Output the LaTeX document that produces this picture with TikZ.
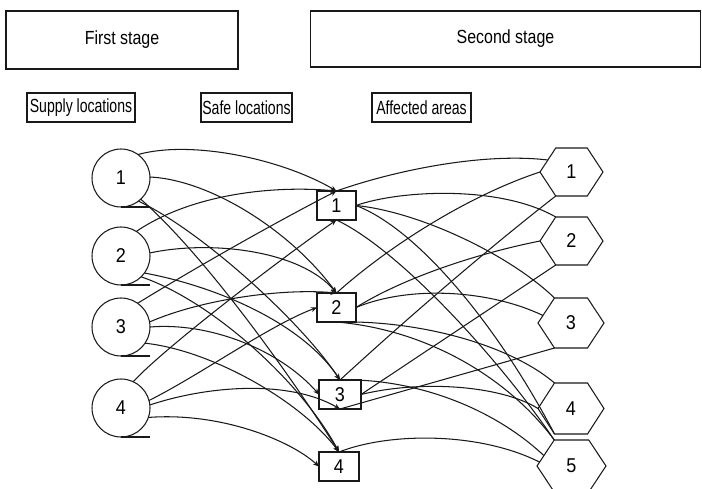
\documentclass[tikz,border=0pt]{standalone}
\usepackage{fontspec}
\setmainfont{Liberation Sans}
\newfontfamily\condA{Liberation Sans}[FakeStretch=0.84]
\newfontfamily\condB{Liberation Sans}[FakeStretch=0.74]
\newfontfamily\condC{Liberation Sans}[FakeStretch=0.9]
\usetikzlibrary{arrows.meta,calc}
\tikzset{
  ln/.style={line width=1.05pt, draw=black!90},
  stagebox/.style={ln, draw, inner sep=0pt, outer sep=0pt, font=\condA\fontsize{19}{21}\selectfont},
  labelbox/.style={ln, draw, inner sep=0pt, outer sep=0pt, font=\condB\fontsize{19}{21}\selectfont},
  supply/.style={ln, draw, circle, minimum size=58pt, inner sep=0pt, outer sep=0pt, font=\condC\fontsize{20}{22}\selectfont},
  safebox/.style={ln, draw, rectangle, minimum height=29pt, minimum width=39pt, inner sep=0pt, outer sep=0pt, font=\condC\fontsize{20}{22}\selectfont},
  hexbody/.style={rectangle, inner sep=0pt, outer sep=0pt, font=\condC\fontsize{20}{22}\selectfont},
  edge/.style={ln},
  arr/.style={ln, -{Stealth[length=6pt,width=5pt]}},
}
\begin{document}
\begin{tikzpicture}[x=1pt,y=-1pt]
\useasboundingbox (0,0) rectangle (702,489);

% stage boxes
\node[stagebox, minimum width=232pt, minimum height=58pt] (first) at (122,40) {First stage};
\node[stagebox, minimum width=390pt, minimum height=56pt] (second) at (505.5,39) {Second stage};

% column labels
\node[labelbox, minimum width=108pt, minimum height=29pt] (lsupply) at (81,107.5) {Supply locations};
\node[labelbox, minimum width=91pt, minimum height=29pt] (lsafe) at (246.5,107.5) {Safe locations};
\node[labelbox, minimum width=99pt, minimum height=29pt] (laff) at (421.5,107.5) {Affected areas};

% supply locations
\node[supply] (c1) at (121,178) {1};
\node[supply] (c2) at (121,256) {2};
\node[supply] (c3) at (121,327) {3};
\node[supply] (c4) at (121,408) {4};
\foreach \c in {c1,c2,c3,c4}{\draw[ln] (\c.south) -- ++(29,0);}

% safe locations
\node[safebox] (b1) at (336.5,205.5) {1};
\node[safebox] (b2) at (336.5,307.5) {2};
\node[safebox, minimum width=42pt] (b3) at (340,394.5) {3};
\node[safebox, minimum width=40pt] (b4) at (339,466.5) {4};

% affected areas (hexagons)
\node[hexbody, minimum width=63pt, minimum height=48pt] (h1) at (571.5,172) {1};
\node[hexbody, minimum width=63pt, minimum height=48pt] (h2) at (571.5,241) {2};
\node[hexbody, minimum width=66pt, minimum height=50pt] (h3) at (571,323) {3};
\node[hexbody, minimum width=66pt, minimum height=51pt] (h4) at (571,408.5) {4};
\node[hexbody, minimum width=69pt, minimum height=52pt] (h5) at (571.5,466) {5};
\foreach \h in {h1,h2,h3,h4,h5}{
  \coordinate (\h tl) at ($(\h.north west)!.25!(\h.north east)$);
  \coordinate (\h tr) at ($(\h.north west)!.75!(\h.north east)$);
  \coordinate (\h bl) at ($(\h.south west)!.25!(\h.south east)$);
  \coordinate (\h br) at ($(\h.south west)!.75!(\h.south east)$);
  \draw[ln, line join=miter] (\h.west) -- (\h tl) -- (\h tr) -- (\h.east) -- (\h br) -- (\h bl) -- cycle;
}

% first stage: supply -> safe
\draw[arr] (c1.54) .. controls (190,140) and (280,158) .. (b1.north);
\draw[arr] (c1.2) .. controls (210,180) and (290,230) .. (b2.north);
\draw[arr] (c1.-53) .. controls (200,230) and (300,320) .. (b3.north);
\draw[arr] (c1.-47) .. controls (210,260) and (300,390) .. (b4.north);

\draw[arr] (c2.58) .. controls (190,195) and (270,185) .. (b1.north);
\draw[arr] (c2.6) .. controls (210,240) and (300,250) .. (b2.north);
\draw[arr] (c2.-36) .. controls (210,285) and (300,320) .. (b3.north);
\draw[arr] (c2.-46) .. controls (210,300) and (300,380) .. (b4.north);

\draw[arr] (c3.55) .. controls (200,265) and (280,220) .. (b1.north);
\draw[arr] (c3.10) .. controls (200,300) and (280,288) .. (b2.north);
\draw[arr] (c3.0) .. controls (210,322) and (280,350) .. (b3.west);
\draw[arr] (c3.-34) .. controls (210,350) and (300,400) .. (b4.north);

\draw[arr] (c4.65) .. controls (165,347) and (290,252) .. (b1.south);
\draw[arr] (c4.15) .. controls (200,375) and (270,325) .. (b2.west);
\draw[arr] (c4.6) .. controls (210,385) and (290,380) .. (b3.south);
\draw[arr] (c4.-19) .. controls (220,412) and (290,440) .. (b4.west);

% second stage: safe -- affected
\draw[edge] (b1.north) .. controls (390,172) and (480,152) .. ($(h1.west)!.5!(h1tl)$);
\draw[edge] (b2.north) .. controls (390,245) and (470,195) .. (h1.west);
\draw[edge] (b3.north) .. controls (400,325) and (480,255) .. (h1bl);

\draw[edge] (b1.east) .. controls (400,190) and (500,185) .. (h2tl);
\draw[edge] (b2.east) .. controls (400,280) and (470,255) .. (h2.west);
\draw[edge] (b3.east) -- (h2bl);

\draw[edge] (b1.east) .. controls (420,212) and (510,255) .. (h3tl);
\draw[edge] (b2.east) .. controls (410,285) and (490,290) .. ($(h3.west)!.3!(h3tl)$);
\draw[edge] (h3bl) -- (b3.south);

\draw[edge] (b2.south) .. controls (420,320) and (510,345) .. (h4tl);
\draw[edge] (b3.east) .. controls (420,380) and (500,385) .. (h4.west);
\draw[edge] (b1.east) .. controls (420,230) and (500,330) .. (h4bl);

\draw[edge] (b2.south) .. controls (430,330) and (510,380) .. (h5tl);
\draw[edge] (b1.south) .. controls (400,250) and (500,360) .. (h5tl);
\draw[edge] (b3.north) .. controls (410,378) and (490,405) .. ($(h5.west)!.4!(h5tl)$);
\draw[edge] (b4.north) .. controls (390,432) and (480,432) .. ($(h5.west)!.15!(h5tl)$);
\end{tikzpicture}
\end{document}
